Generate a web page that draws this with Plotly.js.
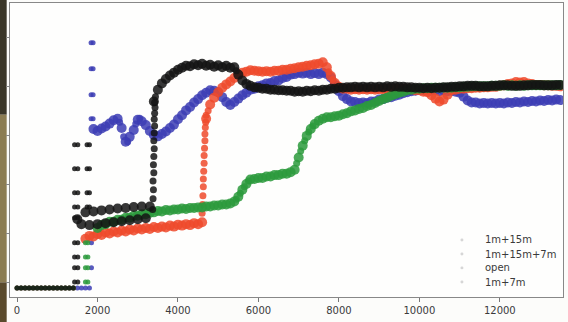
<!DOCTYPE html>
<html>
<head>
<meta charset="utf-8">
<script src="https://cdn.plot.ly/plotly-3.0.1.min.js"></script>
<style>html,body{margin:0;padding:0;background:#fcfcfa;}#chart{width:568px;height:322px;}</style>
</head>
<body>
<div id="chart"></div>
<script>
// Shared time grid (x values), rows of 10
const tGrid = [
  0,100,200,300,400,500,600,700,800,900,
  1000,1100,1200,1300,1400,1500,1600,1700,1800,1900,
  2000,2100,2200,2300,2400,2500,2600,2700,2800,2900,
  3000,3100,3200,3300,3400,3500,3600,3700,3800,3900,
  4000,4100,4200,4300,4400,4500,4600,4700,4800,4900,
  5000,5100,5200,5300,5400,5500,5600,5700,5800,5900,
  6000,6100,6200,6300,6400,6500,6600,6700,6800,6900,
  7000,7100,7200,7300,7400,7500,7600,7700,7800,7900,
  8000,8100,8200,8300,8400,8500,8600,8700,8800,8900,
  9000,9100,9200,9300,9400,9500,9600,9700,9800,9900,
  10000,10100,10200,10300,10400,10500,10600,10700,10800,10900,
  11000,11100,11200,11300,11400,11500,11600,11700,11800,11900,
  12000,12100,12200,12300,12400,12500,12600,12700,12800,12900,
  13000,13100,13200,13300,13400,13500
];

const seriesNames = ["1m+15m", "1m+15m+7m", "open", "1m+7m"];
const xTickVals = [0, 2000, 4000, 6000, 8000, 10000, 12000];
const xTickText = ["0", "2000", "4000", "6000", "8000", "10000", "12000"];

// 1m+15m (blue)
const blueY = [
  -1,-1,-1,-1,-1,-1,-1,-1,-1,-1,
  -1,-1,-1,-1,-1,-1,-1,-1,-1,31.4,
  31.0,31.5,31.9,32.5,33.2,33.5,31.6,28.8,29.8,31.2,
  33.3,33.0,32.2,31.0,30.2,29.9,30.4,30.9,31.6,32.3,
  33.4,34.2,35.2,35.9,36.8,37.5,38.3,38.8,39.3,39.2,
  38.9,37.9,36.9,36.3,36.9,37.6,38.3,38.8,39.4,39.6,
  40.1,40.3,40.7,40.8,41.2,41.3,41.8,42.0,42.5,42.6,
  42.9,42.7,42.9,42.6,42.8,42.6,42.9,42.6,41.9,40.4,
  39.1,38.1,37.5,37.0,36.9,36.7,36.8,36.7,37.0,37.0,
  37.4,37.5,37.8,37.9,38.2,38.4,38.7,38.9,39.1,39.2,
  39.4,39.3,39.4,39.2,39.3,39.1,39.3,39.1,39.2,39.0,
  38.8,38.0,37.2,36.8,36.8,36.6,36.7,36.6,36.7,36.6,
  36.7,36.6,36.8,36.7,36.9,36.8,37.0,36.9,37.1,37.0,
  37.2,37.1,37.3,37.2,37.4,37.3
];
const blueExtraX = [2550,2650,2750,2950,3050,7850,7950];
const blueExtraY = [32.8,29.8,28.8,32.4,33.6,41.2,39.7];
const blueDotsX = [1840,1890,1840,1890,1840,1890,1840,1890,1850,1850];
const blueDotsY = [49.0,49.0,43.7,43.7,38.4,38.4,33.5,33.5,8.2,3.1];

// 1m+15m+7m (red)
const redY = [
  -1,-1,-1,-1,-1,-1,-1,-1,-1,-1,
  -1,-1,-1,-1,-1,null,null,9.0,9.6,9.5,
  10.0,9.8,10.3,10.1,10.5,10.3,10.7,10.5,10.9,10.7,
  11.1,10.9,11.2,11.0,11.4,11.2,11.5,11.3,11.7,11.5,
  11.9,11.7,12.0,11.8,12.2,12.0,12.4,33.5,36.4,37.8,
  38.9,39.8,40.5,41.1,41.8,42.4,42.9,43.1,43.4,43.3,
  43.2,43.1,43.2,43.1,43.3,43.3,43.5,43.5,43.7,43.8,
  44.0,44.1,44.3,44.4,44.6,44.7,45.0,44.0,42.2,40.8,
  40.0,39.6,39.6,39.4,39.5,39.4,39.5,39.4,39.5,39.4,
  39.5,39.5,39.6,39.5,39.6,39.5,39.6,39.5,39.5,39.3,
  39.3,39.0,38.9,38.3,37.6,37.0,37.4,38.4,39.3,39.4,
  39.6,39.6,39.7,39.7,39.8,39.8,39.9,39.9,40.0,40.0,
  40.2,40.3,40.6,40.7,41.0,40.9,41.0,40.7,40.6,40.4,
  40.4,40.3,40.3,40.2,40.2,40.1
];
const redJumpX = [4600,4610,4620,4630,4630,4640,4650,4650,4660,4670,4670,4680,4690,4700,4750,7750,7850];
const redJumpY = [14.2,16.0,17.8,19.6,21.2,22.8,24.4,26.0,27.5,29.0,30.4,31.7,32.8,34.2,35.1,43.1,41.5];

// open (green)
const greenY = [
  -1,-1,-1,-1,-1,-1,-1,-1,-1,-1,
  -1,-1,-1,-1,-1,null,null,null,null,null,
  11.2,11.8,12.0,12.5,12.5,12.9,12.9,13.3,13.3,13.7,
  13.7,14.0,14.0,14.3,14.4,14.7,14.6,14.9,14.8,15.0,
  15.0,15.2,15.1,15.3,15.3,15.4,15.4,15.6,15.6,15.8,
  15.8,16.0,16.0,16.2,16.6,17.6,19.0,20.2,21.1,21.2,
  21.4,21.4,21.7,21.7,22.0,22.0,22.3,22.3,22.6,23.1,
  25.6,28.0,30.0,31.4,32.4,33.1,33.5,33.8,33.8,34.0,
  34.1,34.4,34.6,35.0,35.2,35.5,35.7,36.1,36.3,36.7,
  37.1,37.5,37.8,38.2,38.5,38.8,39.0,39.3,39.4,39.6,
  39.6,39.7,39.7,39.8,39.8,39.8,39.8,39.8,39.8,39.9,
  39.9,40.0,40.0,40.1,40.1,40.1,40.1,40.1,40.2,40.2,
  40.2,40.3,40.2,40.3,40.2,40.3,40.2,40.3,40.3,40.3,
  40.3,40.3,40.3,40.3,40.3,40.4
];
const greenStepX = [5450,5550,5650,5750,6950,7050,7150,7250,7350];
const greenStepY = [17.1,18.3,19.6,20.8,24.4,26.9,29.0,30.8,32.0];
const greenDotsX = [1700,1760,1700,1760,1700,1760,1700,1760];
const greenDotsY = [8.2,8.2,5.3,5.3,3.1,3.1,0.2,0.2];

// 1m+7m (black)
const blackY = [
  -1,-1,-1,-1,-1,-1,-1,-1,-1,-1,
  -1,-1,-1,-1,-1,13.0,12.0,14.4,11.8,14.6,
  12.0,14.8,12.2,15.0,12.4,15.2,12.6,15.3,12.8,15.5,
  13.0,15.6,13.2,15.6,37.0,39.4,40.7,41.6,42.3,42.9,
  43.5,43.9,44.3,44.2,44.6,44.4,44.7,44.3,44.5,44.1,
  44.4,44.0,44.3,43.9,44.0,42.5,41.3,40.6,40.2,39.9,
  39.8,39.6,39.6,39.4,39.4,39.3,39.3,39.2,39.2,39.0,
  39.1,39.0,39.2,39.1,39.3,39.2,39.4,39.4,39.6,39.6,
  39.8,39.8,39.9,39.9,40.0,39.9,40.0,39.9,40.0,39.9,
  40.0,39.9,40.1,40.0,40.1,40.0,40.0,39.9,39.9,39.8,
  39.8,39.7,39.8,39.7,39.8,39.8,39.9,39.9,40.0,40.0,
  40.1,40.1,40.2,40.2,40.2,40.1,40.1,40.1,40.2,40.2,
  40.3,40.3,40.3,40.2,40.2,40.2,40.3,40.3,40.4,40.4,
  40.4,40.3,40.3,40.3,40.4,40.4
];
const blackJumpX = [3370,3380,3390,3380,3400,3390,3400,3410,3400,3410,3420,3410,3420,3430,3420,3440,5450];
const blackJumpY = [15.0,17.2,19.0,20.8,22.5,24.1,25.8,27.4,29.0,30.6,32.0,33.4,34.6,35.8,36.8,38.0,43.3];
const blackDotsX = [1430,1510,1430,1510,1430,1510,1430,1510,1430,1510,1430,1510,1430,1510,1430,1510,1430,1510,1740,1800,1740,1800,1740,1800,1740,1800];
const blackDotsY = [28.2,28.2,23.3,23.3,18.4,18.4,15.5,15.5,13.3,13.3,8.2,8.2,5.3,5.3,3.1,3.1,0.2,0.2,28.2,28.2,23.3,23.3,18.4,18.4,15.5,15.5];

const colors = ["#3c3db4", "#ee4a2c", "#2c9a3c", "#141414"];

// marker size per group: main band, steep segments, isolated start-up dots
function sizes(nMain, nJump, nDots) {
  return [].concat(Array(nMain).fill(10), Array(nJump).fill(7), Array(nDots).fill(5));
}

function mk(name, xs, ys, color, sz) {
  return {
    type: "scatter", mode: "markers", name: name, showlegend: false,
    x: xs, y: ys,
    marker: {color: color, size: sz, opacity: 0.85, line: {width: 0}},
    hoverinfo: "skip"
  };
}

const traces = [
  mk(seriesNames[0], tGrid.concat(blueExtraX, blueDotsX), blueY.concat(blueExtraY, blueDotsY), colors[0],
     sizes(tGrid.length, blueExtraX.length, blueDotsX.length)),
  mk(seriesNames[1], tGrid.concat(redJumpX), redY.concat(redJumpY), colors[1],
     sizes(tGrid.length, redJumpX.length, 0)),
  mk(seriesNames[2], tGrid.concat(greenStepX, greenDotsX), greenY.concat(greenStepY, greenDotsY), colors[2],
     sizes(tGrid.length, greenStepX.length, greenDotsX.length)),
  mk(seriesNames[3], tGrid.concat(blackJumpX, blackDotsX), blackY.concat(blackJumpY, blackDotsY), colors[3],
     sizes(tGrid.length, blackJumpX.length, blackDotsX.length))
];
// baseline points are thinner
traces.forEach(t => { for (let i = 0; i < 19; i++) if (t.y[i] === -1) t.marker.size[i] = 5; });

// legend drawn as text + small faint dots
const annotations = [];
const shapes = [];
const legRows = [0.194, 0.146, 0.099, 0.051];
seriesNames.forEach((n, i) => {
  annotations.push({xref: "paper", yref: "paper", x: 0.855, y: legRows[i], xanchor: "left", yanchor: "middle",
    text: n, showarrow: false, font: {family: "DejaVu Sans", size: 10, color: "#3a3a3a"}});
  shapes.push({type: "circle", xref: "paper", yref: "paper",
    x0: 0.8145, x1: 0.8200, y0: legRows[i] - 0.005, y1: legRows[i] + 0.005,
    fillcolor: "#d6d6d6", line: {width: 0}});
});
// photo edge on the left
shapes.push({type: "rect", xref: "paper", yref: "paper", x0: -0.0181, x1: -0.006, y0: 0.62, y1: 1.011, fillcolor: "#3a3628", line: {width: 0}, layer: "below"});
shapes.push({type: "rect", xref: "paper", yref: "paper", x0: -0.0181, x1: -0.006, y0: 0.05, y1: 0.62, fillcolor: "#8b7c52", line: {width: 0}, layer: "below"});
shapes.push({type: "rect", xref: "paper", yref: "paper", x0: -0.0181, x1: -0.006, y0: -0.086, y1: 0.05, fillcolor: "#5a4a2c", line: {width: 0}, layer: "below"});

const layout = {
  width: 568, height: 322,
  margin: {l: 10, r: 5, t: 3, b: 25},
  paper_bgcolor: "#fcfcfa", plot_bgcolor: "#fefefd",
  showlegend: false,
  font: {family: "DejaVu Sans", size: 10, color: "#3a3a3a"},
  xaxis: {range: [-175, 13570], tickvals: xTickVals, ticktext: xTickText, ticks: "outside", ticklen: 4,
    tickcolor: "#777", showline: true, mirror: true, linecolor: "#888", linewidth: 1,
    showgrid: false, zeroline: false, tickfont: {size: 10, color: "#3a3a3a"}},
  yaxis: {range: [-2.86, 57.1], tick0: 0, dtick: 10, ticks: "outside", ticklen: 3, tickcolor: "#888",
    showticklabels: false, showline: true, mirror: true, linecolor: "#888", linewidth: 1,
    showgrid: false, zeroline: false},
  annotations: annotations,
  shapes: shapes
};

Plotly.newPlot("chart", traces, layout, {displayModeBar: false, staticPlot: true});
</script>
</body>
</html>
